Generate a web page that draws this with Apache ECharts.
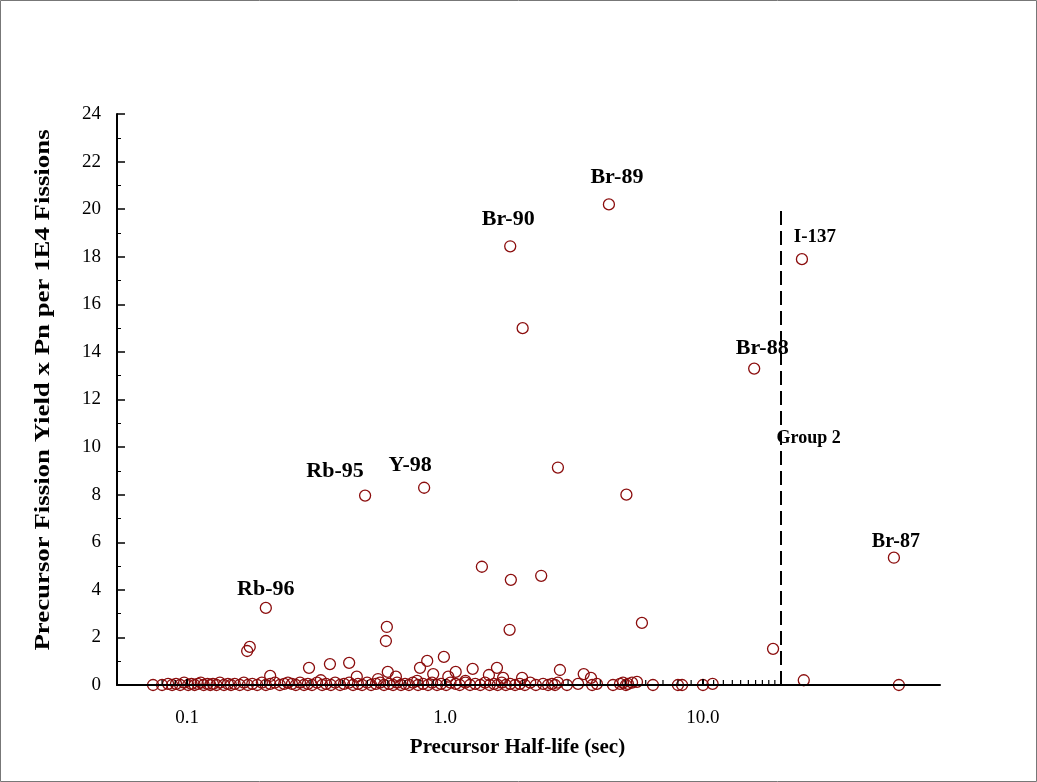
<!DOCTYPE html>
<html><head><meta charset="utf-8">
<script src="https://cdn.jsdelivr.net/npm/echarts@6/dist/echarts.min.js"></script>
<style>html,body{margin:0;padding:0;background:#fff}#c{width:1037px;height:782px}</style>
</head><body><div id="c"></div>
<script>
// ---- data ----
const xTickValues = [0.1, 1, 10];
const xMinorTickValues = [0.08,0.09,0.2,0.3,0.4,0.5,0.6,0.7,0.8,0.9,2,3,4,5,6,7,8,9,11,12,13,14,15,16,17,18,19];
const xRange = [0.0535, 83];
const yRange = [0, 24];
const yInterval = 2;
const xTitle = 'Precursor Half-life (sec)';
const yTitle = 'Precursor Fission Yield x Pn per 1E4 Fissions';

const labeledNames = ['Rb-96','Rb-95','Y-98','Br-90','Br-89','I-137','Br-88','Br-87'];
const labeledX = [0.202, 0.49, 0.83, 1.79, 4.32, 24.2, 15.8, 55];
const labeledY = [3.24, 7.96, 8.29, 18.44, 20.2, 17.9, 13.3, 5.35];

const otherX = [2.0, 2.74, 5.05, 1.39, 1.80, 2.36, 1.78, 5.8, 0.595, 0.59, 0.171, 0.175, 18.7, 24.6, 57.5,
  0.21, 0.297, 0.358, 0.425, 0.99, 0.853, 0.80, 0.60, 0.455, 0.645, 1.10, 1.28, 1.59, 1.48, 1.68, 1.99,
  1.03, 0.90, 0.33, 0.55, 0.78, 1.2, 2.79, 3.45, 3.68, 5.55];
const otherY = [15.0, 9.14, 8.0, 4.97, 4.42, 4.59, 2.32, 2.61, 2.44, 1.85, 1.43, 1.6, 1.52, 0.2, 0.0,
  0.38, 0.72, 0.88, 0.93, 1.18, 1.01, 0.72, 0.55, 0.35, 0.35, 0.55, 0.68, 0.72, 0.42, 0.3, 0.3,
  0.35, 0.46, 0.2, 0.25, 0.17, 0.17, 0.63, 0.46, 0.3, 0.13];

const baselineX = [0.0738,0.080,0.0844,0.0875,0.0906,0.094,0.0974,0.101,0.104,0.107,0.110,0.113,0.116,0.120,
  0.123,0.126,0.130,0.134,0.139,0.144,0.148,0.153,0.160,0.166,0.172,0.179,0.187,0.195,0.202,0.210,0.219,
  0.229,0.238,0.246,0.255,0.264,0.274,0.284,0.294,0.305,0.319,0.334,0.346,0.361,0.375,0.392,0.406,0.425,
  0.440,0.460,0.477,0.499,0.517,0.540,0.560,0.580,0.607,0.629,0.652,0.675,0.700,0.725,0.751,0.786,0.822,
  0.859,0.891,0.931,0.965,1.01,1.05,1.10,1.14,1.20,1.25,1.31,1.37,1.43,1.49,1.55,1.60,1.66,1.72,1.79,1.87,
  1.95,2.04,2.14,2.25,2.40,2.51,2.60,2.67,2.74,2.97,3.28,3.72,3.88,4.48,4.77,4.90,5.03,5.12,5.31,6.40,8.0,
  8.3,10.0,10.9];
const baselineY = [0,0,0.05,0,0.05,0,0.1,0,0.05,0,0.05,0.1,0,0.05,
  0,0.05,0,0.1,0,0.05,0,0.05,0,0.1,0,0.05,0,0.1,0,0.05,0.1,
  0,0.05,0.1,0.05,0,0.1,0,0.05,0,0.1,0,0.05,0,0.1,0,0.05,0.1,
  0,0.05,0,0.1,0,0.05,0.1,0,0.05,0,0.1,0,0.05,0,0.1,0,0.05,
  0,0.1,0,0.05,0,0.1,0.05,0,0.1,0,0.05,0,0.1,0,0.05,0,0.1,0,0.05,0,
  0.05,0,0.1,0,0.05,0,0.05,0,0.1,0,0.05,0,0.05,0,0.05,0.1,0,0.05,0.1,0,0,
  0,0,0.05];

const groupLineX = 20;
const groupLineTop = 20;
const groupText = 'Group 2';
const groupTextY = 10.36;

// ---- styles ----
const FONT = "'Liberation Serif','Times New Roman',serif";
const RED = '#8b0d0d';
const labelStyle = {
  'Rb-96': {off: [0, -19], size: 22},
  'Rb-95': {off: [-30, -24], size: 22},
  'Y-98': {off: [-14, -22], size: 22},
  'Br-90': {off: [-2, -27], size: 22},
  'Br-89': {off: [8, -27], size: 22},
  'I-137': {off: [13, -22], size: 19},
  'Br-88': {off: [8, -20], size: 22},
  'Br-87': {off: [2, -16], size: 20}
};

const pts = (xs, ys) => xs.map((x, i) => [x, ys[i]]);
const symbolStyle = {color: 'rgba(0,0,0,0)', borderColor: RED, borderWidth: 1.3, opacity: 1};

const labeledData = labeledNames.map((n, i) => ({
  name: n, value: [labeledX[i], labeledY[i]],
  label: {show: true, formatter: n, position: 'inside', offset: labelStyle[n].off,
    fontFamily: FONT, fontWeight: 'bold', fontSize: labelStyle[n].size, color: '#000',
    textBorderWidth: 0, textShadowBlur: 0, opacity: 1}
}));

const isMajor = v => xTickValues.some(t => Math.abs(v - t) / t < 1e-6);

const chart = echarts.init(document.getElementById('c'), null, {renderer: 'canvas'});
chart.setOption({
  animation: false,
  backgroundColor: '#fff',
  textStyle: {fontFamily: FONT},
  grid: {left: 117, right: 97, top: 114, bottom: 97},
  graphic: [
    {type: 'rect', shape: {x: 0.5, y: 0.5, width: 1036, height: 781},
      style: {fill: 'none', stroke: '#777', lineWidth: 1}, silent: true},
    {type: 'text', x: 43, y: 390, rotation: Math.PI / 2, scaleX: 1.22, silent: true,
      style: {text: yTitle, fill: '#000', font: "bold 22px 'Liberation Serif','Times New Roman',serif",
        textAlign: 'center', textVerticalAlign: 'middle'}}
  ],
  xAxis: {
    type: 'log', logBase: 10, min: xRange[0], max: xRange[1], z: 10,
    axisLine: {show: true, onZero: false, lineStyle: {color: '#000', width: 2}},
    axisTick: {show: true, inside: true, length: 6, lineStyle: {color: '#000', width: 2}},
    axisLabel: {show: true, showMinLabel: false, showMaxLabel: false,
      formatter: v => isMajor(v) ? v.toFixed(1) : '', margin: 24, fontFamily: FONT, fontSize: 19, color: '#000'},
    splitLine: {show: false}, minorTick: {show: false}, minorSplitLine: {show: false},
    name: xTitle, nameLocation: 'middle', nameGap: 52,
    nameTextStyle: {fontFamily: FONT, fontWeight: 'bold', fontSize: 21, color: '#000', padding: [0, 22, 0, 0]}
  },
  yAxis: {
    type: 'value', min: yRange[0], max: yRange[1], interval: yInterval, z: 10,
    axisLine: {show: true, onZero: false, lineStyle: {color: '#000', width: 2}},
    axisTick: {show: true, inside: true, length: 8, lineStyle: {color: '#000', width: 1.5}},
    minorTick: {show: true, splitNumber: 2, length: 4, lineStyle: {color: '#000', width: 1}},
    axisLabel: {margin: 16, fontFamily: FONT, fontSize: 19, color: '#000'},
    splitLine: {show: false}
  },
  series: [{
    // minor ticks of the log x axis
    type: 'scatter', symbol: 'rect', symbolSize: [1.2, 5], symbolOffset: [0, -2.5], z: 9, silent: true,
    itemStyle: {color: '#000', opacity: 1},
    data: xMinorTickValues.map(v => [v, 0])
  }, {
    type: 'scatter', symbol: 'circle', symbolSize: 11, itemStyle: symbolStyle, z: 5,
    data: pts(baselineX, baselineY)
  }, {
    type: 'scatter', symbol: 'circle', symbolSize: 11, itemStyle: symbolStyle, z: 5,
    data: pts(otherX, otherY),
    markLine: {silent: true, symbol: 'none', animation: false,
      lineStyle: {color: '#000', width: 2, type: [14, 6], opacity: 1},
      label: {show: false},
      data: [[{coord: [groupLineX, 0]}, {coord: [groupLineX, groupLineTop]}]]},
    markPoint: {silent: true, symbol: 'circle', symbolSize: 0,
      data: [{coord: [groupLineX, groupTextY], value: groupText,
        label: {show: true, formatter: groupText, position: 'right', distance: -4,
          fontFamily: FONT, fontWeight: 'bold', fontSize: 18, color: '#000'}}]}
  }, {
    type: 'scatter', symbol: 'circle', symbolSize: 11, itemStyle: symbolStyle, z: 6,
    data: labeledData
  }]
});
</script></body></html>
